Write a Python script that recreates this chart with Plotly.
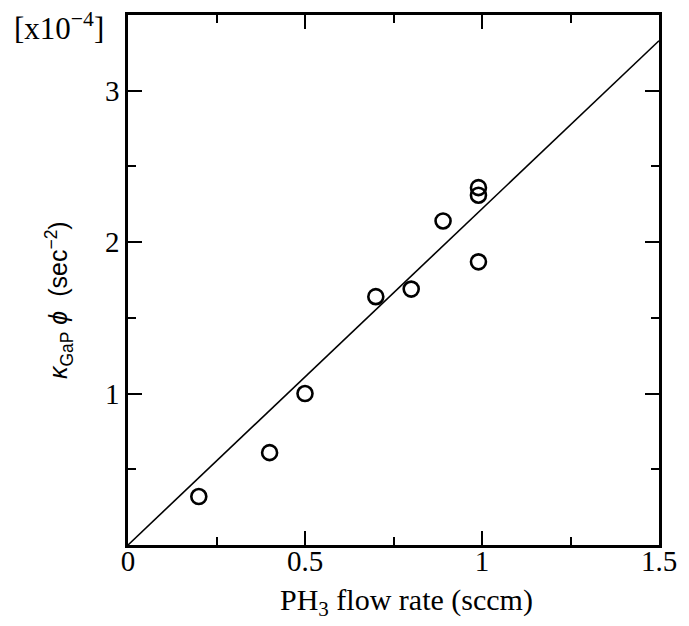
import plotly.graph_objects as go

# Data (x: PH3 flow rate in sccm, y: kappa_GaP * phi in units of 1e-4 sec^-2)
flow_rate = [0.2, 0.4, 0.5, 0.7, 0.8, 0.89, 0.99, 0.99, 0.99]
kappa_phi = [0.32, 0.61, 1.0, 1.64, 1.69, 2.14, 2.36, 2.31, 1.87]
fit_x = [0.0, 1.5]
fit_y = [0.0, 3.33]

x_tickvals = [0, 0.5, 1, 1.5]
x_ticktext = ["0", "0.5", "1", "1.5"]
y_tickvals = [1, 2, 3]
y_ticktext = ["1", "2", "3"]

serif = "Liberation Serif"
sans = "Liberation Sans"

fig = go.Figure()
fig.add_trace(go.Scatter(x=fit_x, y=fit_y, mode="lines",
                         line=dict(color="black", width=1.6),
                         showlegend=False, hoverinfo="skip"))
fig.add_trace(go.Scatter(x=flow_rate, y=kappa_phi, mode="markers",
                         marker=dict(symbol="circle-open", size=15, color="black",
                                     line=dict(width=2.6, color="black")),
                         showlegend=False))

axis_common = dict(showgrid=False, zeroline=False, showline=True, linecolor="black",
                   linewidth=2.5, mirror="ticks", ticks="inside", ticklen=14,
                   tickwidth=2, tickcolor="black",
                   tickfont=dict(family=serif, size=29, color="black"))

fig.update_xaxes(range=[0, 1.5], tickvals=x_tickvals, ticktext=x_ticktext,
                 ticklabelstandoff=-12,
                 minor=dict(ticks="inside", ticklen=8, tickwidth=2, tickcolor="black",
                            tickvals=[0.25, 0.75, 1.25]),
                 **axis_common)
fig.update_yaxes(range=[0, 3.5], tickvals=y_tickvals, ticktext=y_ticktext,
                 minor=dict(ticks="inside", ticklen=8, tickwidth=2, tickcolor="black",
                            tickvals=[0.5, 1.5, 2.5]),
                 **axis_common)

fig.add_annotation(text="PH<sub>3</sub> flow rate (sccm)", xref="paper", yref="paper",
                   x=0.525, y=-0.108, xanchor="center", yanchor="middle", showarrow=False,
                   font=dict(family=serif, size=30, color="black"))
fig.add_annotation(text="<i>κ</i><sub>GaP</sub> <i>ϕ</i>  (sec<sup>−2</sup>)",
                   xref="paper", yref="paper", x=-0.13, y=0.462, textangle=-90,
                   xanchor="center", yanchor="middle", showarrow=False,
                   font=dict(family=sans, size=25, color="black"))
fig.add_annotation(text="[x10<sup>−4</sup>]", xref="paper", yref="paper",
                   x=-0.13, y=0.978, xanchor="center", yanchor="middle", showarrow=False,
                   font=dict(family=serif, size=31, color="black"))

fig.update_layout(width=689, height=626, margin=dict(l=128, r=22, t=14, b=81),
                  plot_bgcolor="white", paper_bgcolor="white")

fig.write_html("out.html", config={"displayModeBar": False},
               post_script="document.body.style.margin='0';document.body.style.overflow='hidden';")
